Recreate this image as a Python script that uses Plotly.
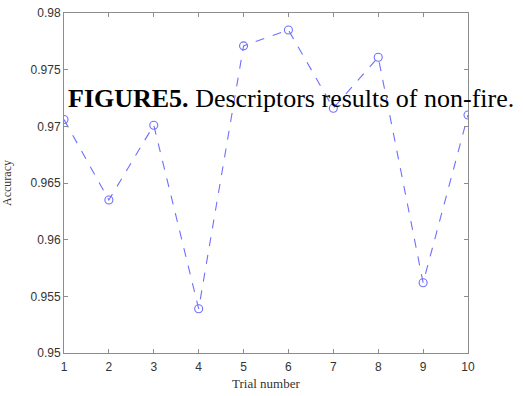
import plotly.graph_objects as go

trials = [1, 2, 3, 4, 5, 6, 7, 8, 9, 10]
accuracy = [0.9706, 0.9635, 0.9701, 0.9539, 0.9771, 0.9785, 0.9716, 0.9761, 0.9562, 0.9710]
x_ticks = [1, 2, 3, 4, 5, 6, 7, 8, 9, 10]
y_ticks = [0.95, 0.955, 0.96, 0.965, 0.97, 0.975, 0.98]
y_tick_labels = ["0.95", "0.955", "0.96", "0.965", "0.97", "0.975", "0.98"]

fig = go.Figure()
fig.add_trace(go.Scatter(
    x=trials, y=accuracy, mode="lines+markers",
    line=dict(color="#6f6fff", width=1.1, dash="dash"),
    marker=dict(symbol="circle-open", size=8, color="#6f6fff", line=dict(width=1.1)),
    showlegend=False,
))

axis_common = dict(
    showline=True, linecolor="#8c8c8c", linewidth=1, mirror="ticks",
    ticks="inside", ticklen=4, tickcolor="#8c8c8c", showgrid=False, zeroline=False,
    automargin=False,
    tickfont=dict(family="Liberation Sans, Arial", size=12, color="#333333"),
)

fig.update_xaxes(range=[1, 10], tickvals=x_ticks, ticklabelstandoff=3, **axis_common)
fig.update_yaxes(range=[0.95, 0.98], tickvals=y_ticks, ticktext=y_tick_labels, **axis_common)

fig.add_annotation(
    xref="paper", yref="paper", x=0.5, y=-31 / 340, xanchor="center", yanchor="middle",
    text="Trial number", showarrow=False,
    font=dict(family="Liberation Serif, Times New Roman", size=13, color="#333333"),
)
fig.add_annotation(
    xref="paper", yref="paper", x=-57 / 404, y=0.5, xanchor="center", yanchor="middle",
    text="Accuracy", showarrow=False, textangle=-90,
    font=dict(family="Liberation Serif, Times New Roman", size=12, color="#333333"),
)

fig.add_annotation(
    xref="paper", yref="paper", x=0.004, y=(353 - 98) / 340, xanchor="left", yanchor="middle",
    text="<b>FIGURE5.</b> Descriptors results of non-fire.", showarrow=False,
    font=dict(family="Liberation Serif, Times New Roman", size=26, color="#000000"),
)

fig.update_layout(
    width=523, height=396,
    margin=dict(l=64, r=55, t=13, b=43),
    paper_bgcolor="white", plot_bgcolor="white",
)

fig.write_html("out.html", config={"displayModeBar": False},
               post_script="document.body.style.margin='0';document.body.style.overflow='hidden';")
